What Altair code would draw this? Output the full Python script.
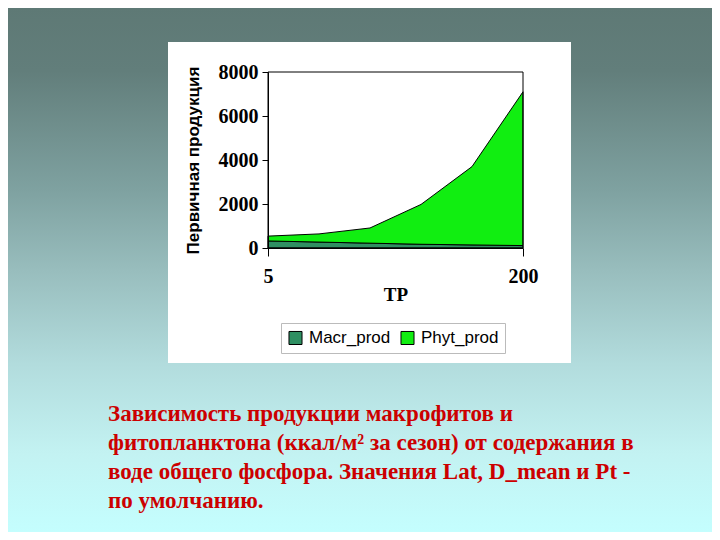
import altair as alt
import pandas as pd

# ---- data ----
tp = [5, 10, 20, 50, 100, 200]
macr_prod = [320, 270, 220, 170, 140, 110]
phyt_prod = [220, 370, 690, 1810, 3560, 6990]
series = ["Macr_prod", "Phyt_prod"]
series_colors = ["#2F8F62", "#11EE11"]
y_ticks = [0, 2000, 4000, 6000, 8000]
x_ticks = [5, 200]
caption = [
    "Зависимость продукции макрофитов и",
    "фитопланктона (ккал/м² за сезон) от содержания в",
    "воде общего фосфора. Значения Lat, D_mean и Pt -",
    "по умолчанию.",
]

rows = []
for i, t in enumerate(tp):
    rows.append({"TP": t, "series": series[0], "ord": 0, "value": macr_prod[i]})
    rows.append({"TP": t, "series": series[1], "ord": 1, "value": phyt_prod[i]})
df = pd.DataFrame(rows)

W, H = 255, 176
PL, PT = 260, 64
TOTAL_W, TOTAL_H = 704, 524

one = alt.Data(values=[{"k": 1}])

bg = alt.Chart(one).mark_rect(
    fill=alt.Gradient(
        gradient="linear",
        x1=0, x2=0, y1=0, y2=1,
        stops=[
            alt.GradientStop(color="#5E7975", offset=0),
            alt.GradientStop(color="#627E7B", offset=0.12),
            alt.GradientStop(color="#7FA2A1", offset=0.35),
            alt.GradientStop(color="#98BDBD", offset=0.5),
            alt.GradientStop(color="#B2DCDD", offset=0.68),
            alt.GradientStop(color="#C3F2F2", offset=0.85),
            alt.GradientStop(color="#C4FEFE", offset=1),
        ],
    )
).encode(
    x=alt.value(-PL), x2=alt.value(TOTAL_W - PL),
    y=alt.value(-PT), y2=alt.value(TOTAL_H - PT),
)

panel = alt.Chart(one).mark_rect(fill="white").encode(
    x=alt.value(-100), x2=alt.value(303),
    y=alt.value(-30), y2=alt.value(291),
)

areas = alt.Chart(df).mark_area(stroke="black", strokeWidth=1).encode(
    x=alt.X(
        "TP:O",
        sort=tp,
        scale=alt.Scale(type="point", padding=0),
        axis=alt.Axis(
            values=x_ticks, labelAngle=0, title="TP",
            labelFont="Liberation Serif", labelFontWeight="bold", labelFontSize=20,
            labelColor="black", labelPadding=10, tickSize=8, tickColor="black",
            domainColor="black", titleFont="Liberation Serif", titleFontWeight="bold",
            titleFontSize=19, titleColor="black", titleY=52, titleBaseline="alphabetic",
            zindex=1, grid=False,
        ),
    ),
    y=alt.Y(
        "value:Q",
        stack="zero",
        scale=alt.Scale(domain=[0, 8000], nice=False),
        axis=alt.Axis(
            values=y_ticks, format="d", title="Первичная продукция", grid=False,
            labelFont="Liberation Serif", labelFontWeight="bold", labelFontSize=20,
            labelColor="black", labelPadding=4, tickSize=6, tickColor="black",
            domainColor="black", titleFont="Liberation Sans", titleFontWeight="bold",
            titleFontSize=17, titleColor="black", titleAngle=-90, titleX=-75, titleY=88,
            titleAlign="center", titleBaseline="middle", zindex=1,
        ),
    ),
    color=alt.Color(
        "series:N",
        scale=alt.Scale(domain=series, range=series_colors),
        legend=alt.Legend(
            title=None, orient="none", legendX=13, legendY=251, direction="horizontal",
            fillColor="white", strokeColor="#BBBBBB", padding=6,
            symbolType="square", symbolSize=170, symbolStrokeColor="black",
            symbolStrokeWidth=1, labelFont="Liberation Sans", labelFontSize=17,
            labelColor="black", columnPadding=7, labelOffset=5, zindex=1,
        ),
    ),
    order=alt.Order("ord:Q", sort="ascending"),
)

frame = alt.Chart(one).mark_rect(fill="transparent", stroke="black", strokeWidth=1).encode(
    x=alt.value(0), x2=alt.value("width"), y=alt.value(0), y2=alt.value("height"),
)

text = alt.Chart(one).mark_text(
    text=caption, align="left", baseline="alphabetic",
    font="Liberation Serif", fontWeight="bold", fontSize=23, color="#CC0000",
    lineHeight=29,
).encode(x=alt.value(-160), y=alt.value(349))

chart = alt.layer(bg, panel, areas, frame, text).properties(
    width=W, height=H,
    autosize=alt.AutoSizeParams(type="none"),
    padding={"left": PL, "top": PT, "right": TOTAL_W - PL - W, "bottom": TOTAL_H - PT - H},
).configure_view(stroke=None)

chart.save("out.html", embed_options={"renderer": "svg", "actions": False})
